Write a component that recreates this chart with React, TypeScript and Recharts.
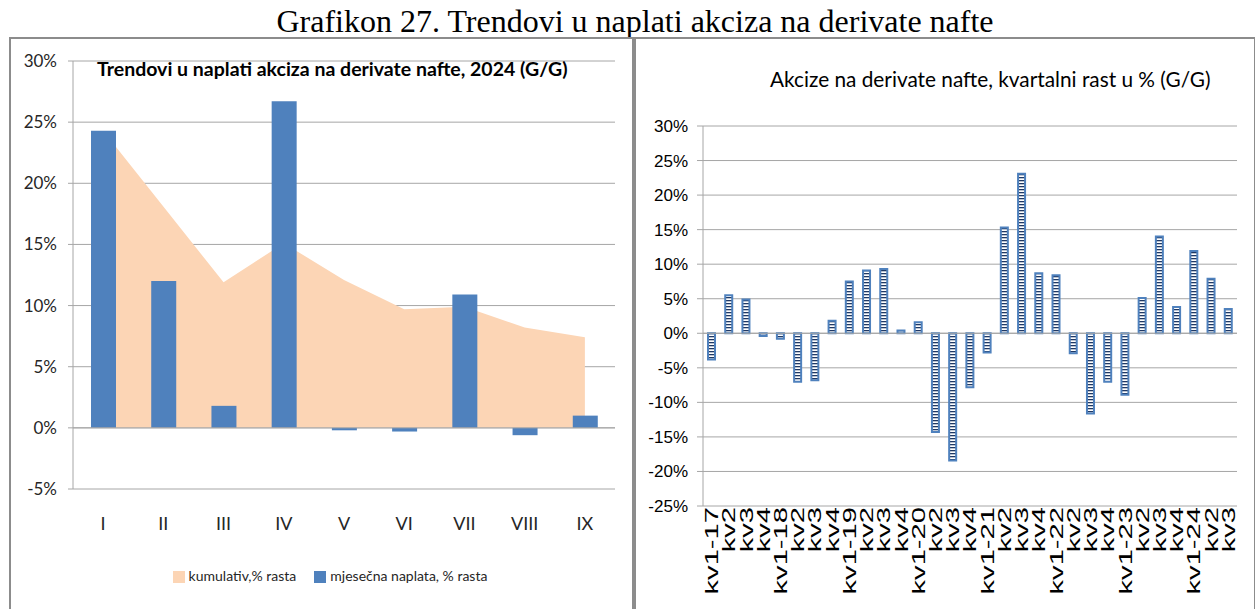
import React from "react";
import {
  ComposedChart,
  BarChart,
  Bar,
  Area,
  XAxis,
  YAxis,
  CartesianGrid,
  Legend,
  ReferenceLine,
} from "recharts";

// lijevi grafikon: mjesečno, 2024
const months = ["I", "II", "III", "IV", "V", "VI", "VII", "VIII", "IX"];
const kumulativ = [24.3, 18.1, 11.9, 15.1, 12.1, 9.7, 9.9, 8.2, 7.4];
const mjesecna = [24.3, 12.0, 1.8, 26.7, -0.2, -0.3, 10.9, -0.6, 1.0];
const leftTicks = [-5, 0, 5, 10, 15, 20, 25, 30];

// desni grafikon: kvartalno
const quarters = [
  "kv1-17", "kv2", "kv3", "kv4",
  "kv1-18", "kv2", "kv3", "kv4",
  "kv1-19", "kv2", "kv3", "kv4",
  "kv1-20", "kv2", "kv3", "kv4",
  "kv1-21", "kv2", "kv3", "kv4",
  "kv1-22", "kv2", "kv3", "kv4",
  "kv1-23", "kv2", "kv3", "kv4",
  "kv1-24", "kv2", "kv3",
];
const kvartalni = [
  -3.8, 5.5, 4.9, -0.4,
  -0.8, -7.0, -6.8, 1.8,
  7.5, 9.1, 9.3, 0.4,
  1.6, -14.3, -18.4, -7.8,
  -2.8, 15.3, 23.1, 8.7,
  8.4, -2.9, -11.6, -7.0,
  -8.9, 5.1, 14.0, 3.8,
  11.9, 7.9, 3.5,
];
const rightTicks = [-25, -20, -15, -10, -5, 0, 5, 10, 15, 20, 25, 30];

const leftData = months.map((m, i) => ({
  name: m,
  "kumulativ,% rasta": kumulativ[i],
  "mjesečna naplata, % rasta": mjesecna[i],
}));

const rightData = quarters.map((q, i) => ({ name: q, value: kvartalni[i] }));

const calibri = 'Lato, "Open Sans", sans-serif';
const sans = '"Liberation Sans", Arial, sans-serif';
const grid = "#a6a6a6";
const pct = (v: number) => `${v}%`;

const RotatedTick = (props: any) => {
  const { x, y, payload } = props;
  return (
    <g transform={`translate(${x},${y - 17}) rotate(-90)`}>
      <text
        transform="scale(1.62,1)"
        textAnchor="end"
        dy="0.36em"
        fontFamily={sans}
        fontSize={18}
        fill="#000"
      >
        {payload.value}
      </text>
    </g>
  );
};

export default function App() {
  return (
    <div
      style={{
        position: "absolute",
        left: 0,
        top: 0,
        width: 1255,
        height: 609,
        overflow: "hidden",
        background: "#fff",
      }}
    >
      <div
        style={{
          position: "absolute",
          left: 0,
          top: 3,
          width: 1270,
          textAlign: "center",
          fontFamily: '"Liberation Serif", "Times New Roman", serif',
          fontSize: 32,
          lineHeight: "36px",
          whiteSpace: "nowrap",
        }}
      >
        Grafikon 27. Trendovi u naplati akciza na derivate nafte
      </div>

      <div
        style={{
          position: "absolute",
          left: 9,
          top: 37,
          width: 621,
          height: 600,
          border: "2px solid #8c8c8c",
        }}
      />
      <div
        style={{
          position: "absolute",
          left: 634,
          top: 37,
          width: 618,
          height: 600,
          border: "2px solid #8c8c8c",
        }}
      />

      <div style={{ position: "absolute", left: 0, top: 0 }}>
        <ComposedChart
          width={632}
          height={609}
          data={leftData}
          margin={{ top: 61, right: 17, bottom: 60, left: 13 }}
        >
          <CartesianGrid vertical={false} stroke={grid} />
          <XAxis
            dataKey="name"
            axisLine={false}
            tickLine={false}
            height={60}
            tickMargin={22}
            tick={{ fontFamily: calibri, fontSize: 18, fill: "#262626" }}
          />
          <YAxis
            domain={[-5, 30]}
            ticks={leftTicks}
            tickFormatter={pct}
            width={60}
            stroke={grid}
            tickSize={5}
            tickMargin={11}
            tick={{ fontFamily: calibri, fontSize: 17, fill: "#262626" }}
            interval={0}
          />
          <ReferenceLine y={0} stroke={grid} />
          <Area
            dataKey="kumulativ,% rasta"
            type="linear"
            fill="#fcd5b5"
            fillOpacity={1}
            stroke="none"
            isAnimationActive={false}
          />
          <Bar
            dataKey="mjesečna naplata, % rasta"
            fill="#4f81bd"
            barSize={25}
            isAnimationActive={false}
          />
          <Legend
            verticalAlign="middle"
            align="center"
            iconType="square"
            iconSize={12}
            wrapperStyle={{ top: 567, left: 119, width: 440 }}
            formatter={(v: string) => (
              <span
                style={{
                  color: "#262626",
                  fontFamily: calibri,
                  fontSize: 14,
                  marginRight: 8,
                }}
              >
                {v}
              </span>
            )}
          />
        </ComposedChart>
      </div>

      <div
        style={{
          position: "absolute",
          left: 97,
          top: 56,
          fontFamily: calibri,
          fontWeight: "bold",
          fontSize: 19.5,
          lineHeight: "26px",
          color: "#000",
          whiteSpace: "nowrap",
        }}
      >
        Trendovi u naplati akciza na derivate nafte, 2024 (G/G)
      </div>

      <div
        style={{
          position: "absolute",
          left: 770,
          top: 66,
          fontFamily: calibri,
          fontSize: 20.8,
          lineHeight: "26px",
          color: "#000",
          whiteSpace: "nowrap",
        }}
      >
        Akcize na derivate nafte, kvartalni rast u % (G/G)
      </div>

      <div style={{ position: "absolute", left: 636, top: 0 }}>
        <BarChart
          width={619}
          height={609}
          data={rightData}
          margin={{ top: 126, right: 18, bottom: 13, left: 7 }}
        >
          <defs>
            <pattern
              id="stripes"
              width="6"
              height="3"
              patternUnits="userSpaceOnUse"
            >
              <rect width="6" height="3" fill="#ffffff" />
              <rect width="6" height="1.3" fill="#1f3864" />
            </pattern>
          </defs>
          <CartesianGrid vertical={false} stroke={grid} />
          <XAxis
            dataKey="name"
            axisLine={false}
            tickLine={false}
            interval={0}
            height={90}
            tickMargin={12}
            tick={<RotatedTick />}
          />
          <YAxis
            domain={[-25, 30]}
            ticks={rightTicks}
            tickFormatter={pct}
            width={60}
            stroke={grid}
            tickSize={6}
            tickMargin={9}
            interval={0}
            tick={{ fontFamily: sans, fontSize: 17, fill: "#000" }}
          />
          <ReferenceLine y={0} stroke={grid} />
          <Bar
            dataKey="value"
            fill="url(#stripes)"
            stroke="#4f81bd"
            strokeWidth={2}
            barSize={7}
            isAnimationActive={false}
          />
        </BarChart>
      </div>
    </div>
  );
}
